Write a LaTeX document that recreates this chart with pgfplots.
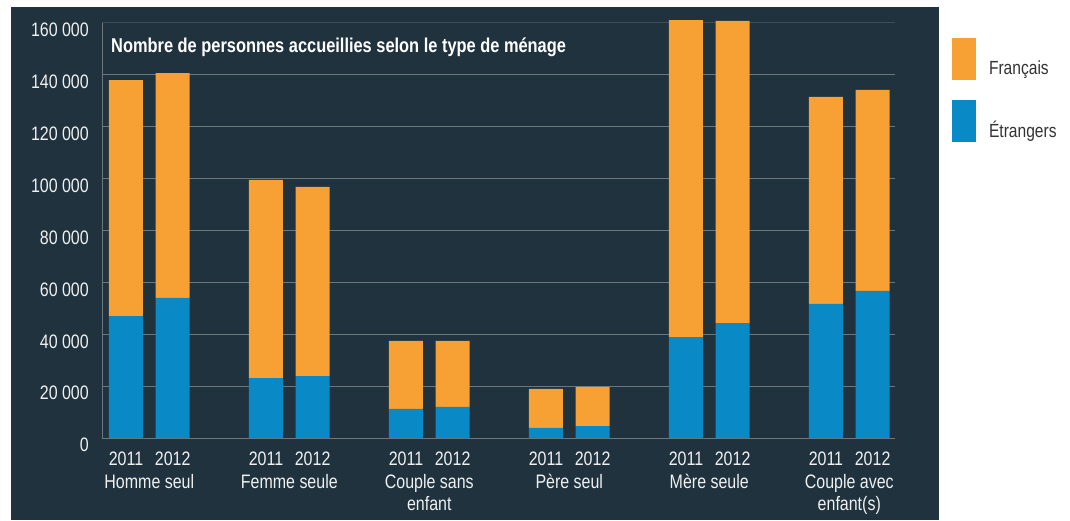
\documentclass[border=0pt]{standalone}
\usepackage{fontspec}
\setmainfont{Liberation Sans}[FakeStretch=0.82]
\usepackage{pgfplots}
\usepackage{pgfplotstable}
\pgfplotsset{compat=1.18}
\definecolor{bg}{HTML}{1F323E}
\definecolor{orng}{HTML}{F7A033}
\definecolor{blu}{HTML}{0A89C7}
\definecolor{gridc}{HTML}{6B767D}
\definecolor{gridtop}{HTML}{3F4E57}
\definecolor{txt}{HTML}{F0F0F0}
\definecolor{legtxt}{HTML}{333333}
\pgfplotstableread{
x e f
0 47000 91000
1 54000 86700
3 23100 76400
4 23900 72900
6 11200 26200
7 12000 25400
9 3900 15000
10 4600 15100
12 38900 122200
13 44300 116500
15 51700 79800
16 56700 77500
}\mydata
\tikzset{catlab/.style={anchor=base, text=txt, font=\fontsize{19.5}{22}\selectfont, inner sep=0pt}}
\begin{document}
\begin{tikzpicture}[x=1pt,y=1pt]
\fill[white] (0,0) rectangle (1070,520);
\fill[bg] (11,0) rectangle (939,513);
\node[anchor=base west, text=white, font=\fontsize{20}{22}\selectfont\bfseries, inner sep=0pt] at (111,467) {Nombre de personnes accueillies selon le type de ménage};
\begin{axis}[
  at={(102pt,82pt)}, anchor=south west,
  width=793pt, height=415pt, scale only axis,
  xmin=-0.514, xmax=16.48, ymin=0, ymax=160000,
  enlargelimits=false, clip=false,
  axis lines*=left,
  axis line style={gridc, line width=1pt},
  scaled y ticks=false,
  ytick={0,20000,...,140000},
  yticklabels={0,20 000,40 000,60 000,80 000,100 000,120 000,140 000},
  extra y ticks={160000}, extra y tick labels={160 000},
  extra y tick style={grid style={gridtop, line width=1pt}},
  ymajorgrids, grid style={gridc, line width=1pt},
  major tick length=0pt,
  xtick={0,1,3,4,6,7,9,10,12,13,15,16},
  xticklabels={2011,2012,2011,2012,2011,2012,2011,2012,2011,2012,2011,2012},
  ticklabel style={text=txt, font=\fontsize{19.5}{22}\selectfont},
  yticklabel style={anchor=north east, inner sep=0pt, xshift=-13pt},
  xticklabel style={anchor=base, inner sep=0pt, yshift=-27pt},
  ybar stacked, bar width=34pt,
  legend style={at={(1.0719,0.9639)}, anchor=north west, draw=none, fill=none,
    inner sep=0pt, outer sep=0pt, row sep=20pt, column sep=11pt,
    font=\fontsize{19}{22}\selectfont, text=legtxt},
  legend cell align=left,
  reverse legend,
]
\addplot[fill=blu, draw=none, legend image code/.code={\fill[blu] (0pt,-12pt) rectangle (24pt,30pt);}] table[x=x,y=e]{\mydata};
\addlegendentry{Étrangers}
\addplot[fill=orng, draw=none, legend image code/.code={\fill[orng] (0pt,-12pt) rectangle (24pt,30pt);}] table[x=x,y=f]{\mydata};
\addlegendentry{Français}
\node[catlab] at (axis cs:0.5,0) [yshift=-50pt] {Homme seul};
\node[catlab] at (axis cs:3.5,0) [yshift=-50pt] {Femme seule};
\node[catlab] at (axis cs:6.5,0) [yshift=-50pt] {Couple sans};
\node[catlab] at (axis cs:6.5,0) [yshift=-72pt] {enfant};
\node[catlab] at (axis cs:9.5,0) [yshift=-50pt] {Père seul};
\node[catlab] at (axis cs:12.5,0) [yshift=-50pt] {Mère seule};
\node[catlab] at (axis cs:15.5,0) [yshift=-50pt] {Couple avec};
\node[catlab] at (axis cs:15.5,0) [yshift=-72pt] {enfant(s)};
\end{axis}
\end{tikzpicture}
\end{document}
